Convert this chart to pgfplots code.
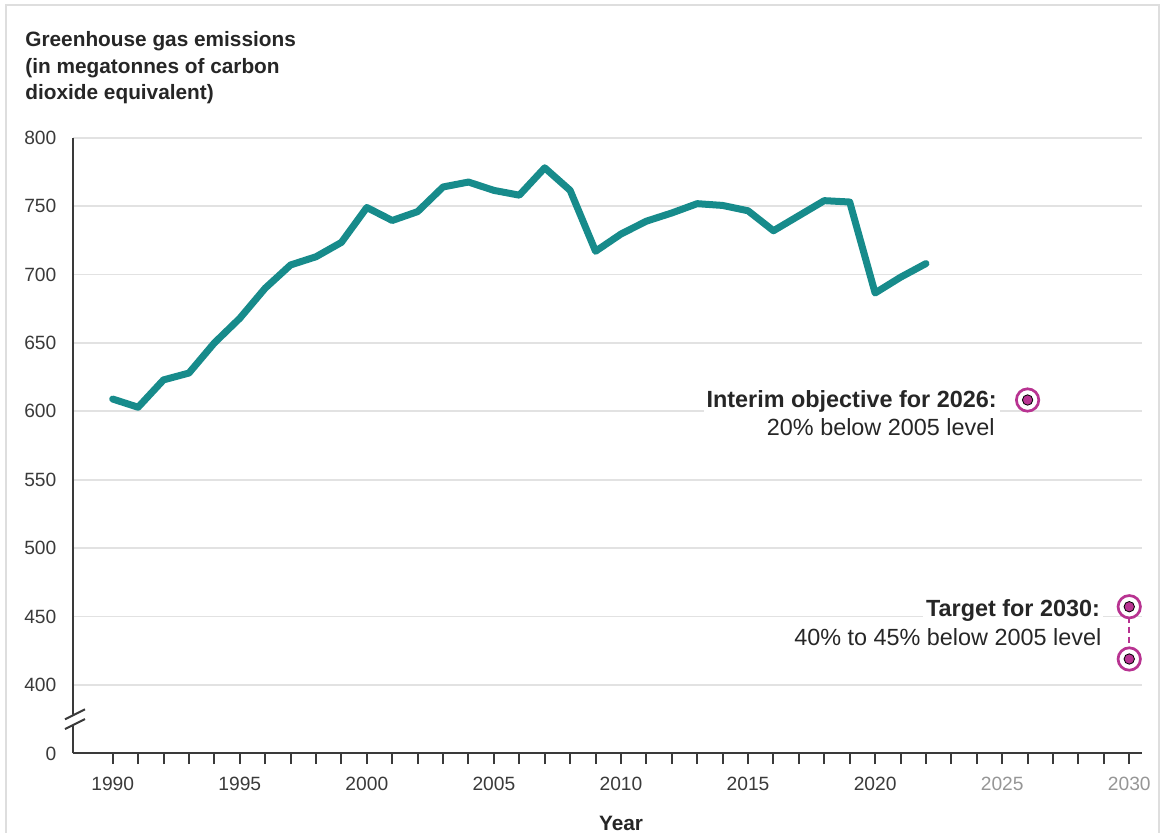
\documentclass[border=0pt]{standalone}
\usepackage{pgfplots}
\pgfplotsset{compat=1.18}
\usepackage{fontspec}
\setmainfont{Liberation Sans}
\definecolor{teal1}{RGB}{23,139,139}
\definecolor{mag}{RGB}{184,51,145}
\definecolor{grid1}{RGB}{226,226,226}
\definecolor{ax}{RGB}{58,58,58}
\definecolor{txt}{RGB}{38,38,38}
\definecolor{lightlab}{RGB}{150,150,150}
\definecolor{frame1}{RGB}{222,222,222}
\begin{document}
\begin{tikzpicture}
\path[use as bounding box] (0,0) rectangle (580pt,416pt);
\draw[frame1, line width=1pt] (3pt,-10pt) -- (3pt,413.5pt) -- (579.5pt,413.5pt) -- (579.5pt,-10pt);
% title
\node[anchor=base west, inner sep=0pt, font=\bfseries\fontsize{10.4}{12}\selectfont, text=txt] at (12.5pt,392.65pt) {Greenhouse gas emissions};
\node[anchor=base west, inner sep=0pt, font=\bfseries\fontsize{10.4}{12}\selectfont, text=txt] at (12.5pt,379.35pt) {(in megatonnes of carbon};
\node[anchor=base west, inner sep=0pt, font=\bfseries\fontsize{10.4}{12}\selectfont, text=txt] at (12.5pt,366.2pt) {dioxide equivalent)};
\begin{axis}[
  at={(36.65pt,39.3pt)}, anchor=south west,
  scale only axis, width=534.2pt, height=307.85pt,
  xmin=1988.45, xmax=2030.49, ymin=350, ymax=800,
  axis x line=bottom, axis y line=left,
  axis line style={-, draw=ax, line width=1pt},
  ymajorgrids, grid style={grid1, line width=0.9pt},
  xtick={1990,1995,2000,2005,2010,2015,2020,2025,2030},
  xticklabels={1990,1995,2000,2005,2010,2015,2020,\textcolor{lightlab}{2025},\textcolor{lightlab}{2030}},
  minor xtick={1991,1992,1993,1994,1996,1997,1998,1999,2001,2002,2003,2004,2006,2007,2008,2009,2011,2012,2013,2014,2016,2017,2018,2019,2021,2022,2023,2024,2026,2027,2028,2029},
  ytick={350,400,450,500,550,600,650,700,750,800},
  yticklabels={0,400,450,500,550,600,650,700,750,800},
  tick align=outside,
  major tick length=5.3pt, minor tick length=5.3pt,
  xtick style={draw=ax, line width=1pt},
  minor x tick style={draw=ax, line width=1pt},
  ytick style={draw=none},
  ticklabel style={font=\fontsize{9.6}{11}\selectfont, text=ax},
  xticklabel style={anchor=base, inner sep=0pt, yshift=-13pt},
  yticklabel style={anchor=east, inner sep=0pt, xshift=-3pt},
  clip=false,
]
\addplot[teal1, line width=3.5pt, line join=round, line cap=round] coordinates {
(1990,609) (1991,603) (1992,623) (1993,628) (1994,650) (1995,668) (1996,690) (1997,707) (1998,713) (1999,723.5)
(2000,749) (2001,739.5) (2002,746) (2003,764) (2004,767.6) (2005,761.5) (2006,758) (2007,778) (2008,761.5) (2009,717)
(2010,729.6) (2011,739) (2012,745) (2013,751.8) (2014,750.5) (2015,746.6) (2016,732) (2017,743) (2018,754) (2019,753)
(2020,686.5) (2021,698) (2022,708)
};
\addplot[mag, line width=0.8pt, densely dashed] coordinates {(2030,457.2) (2030,419)};
\addplot[only marks, mark=*, mark size=5.6pt, mark options={draw=mag, fill=white, line width=1.35pt}] coordinates {(2026,608.3) (2030,457.2) (2030,419)};
\addplot[only marks, mark=*, mark size=2.6pt, mark options={draw=none, fill=mag}] coordinates {(2026,608.3) (2030,457.2) (2030,419)};
\end{axis}
% axis break
\fill[white] (31pt,53pt) -- (43pt,59pt) -- (43pt,62pt) -- (31pt,56pt) -- cycle;
\fill[white] (35pt,53.5pt) rectangle (39pt,58.5pt);
\draw[ax, line width=1pt] (32.5pt,56.35pt) -- (42.5pt,61.35pt);
\draw[ax, line width=1pt] (32.5pt,51.5pt) -- (42.5pt,56.5pt);
% annotations
\node[anchor=base east, fill=white, inner xsep=1.5pt, inner ysep=1pt, font=\bfseries\fontsize{11.7}{13}\selectfont, text=txt] at (500pt,212.35pt) {Interim objective for 2026:};
\node[anchor=base east, inner sep=0pt, font=\fontsize{11.7}{13}\selectfont, text=txt] at (497.5pt,198.2pt) {20\% below 2005 level};
\node[anchor=base east, fill=white, inner xsep=1.5pt, inner ysep=1pt, font=\bfseries\fontsize{11.7}{13}\selectfont, text=txt] at (551.65pt,108pt) {Target for 2030:};
\node[anchor=base east, inner sep=0pt, font=\fontsize{11.7}{13}\selectfont, text=txt] at (550.85pt,93.15pt) {40\% to 45\% below 2005 level};
\node[anchor=base, inner sep=0pt, font=\bfseries\fontsize{10.4}{12}\selectfont, text=txt] at (310.5pt,1pt) {Year};
\end{tikzpicture}
\end{document}
